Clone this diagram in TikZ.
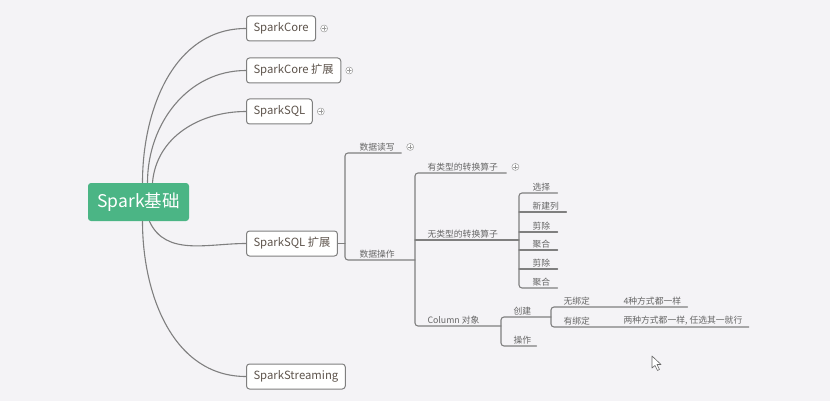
\documentclass[tikz,border=0pt]{standalone}
\usepackage{fontspec}
\setmainfont{Noto Sans CJK SC}
\usetikzlibrary{positioning, calc}
\definecolor{bgcol}{HTML}{F4F3F6}
\definecolor{rootfill}{HTML}{4BB585}
\definecolor{edgecol}{HTML}{7F7F7F}
\definecolor{boxtxt}{HTML}{5E544C}
\definecolor{leaftxt}{HTML}{666666}
\definecolor{foldcol}{HTML}{9A9A9A}

\begin{document}
\begin{tikzpicture}[
  x=1pt, y=-1pt,
  line width=1pt, line cap=round, line join=round,
  root/.style  = {fill=rootfill, rounded corners=3pt, minimum width=101pt,
                  minimum height=38pt, inner sep=0pt, text=white,
                  font=\fontsize{17.5}{19}\selectfont},
  topic/.style = {draw=edgecol, line width=1pt, fill=white, rounded corners=3pt,
                  minimum height=25pt, inner xsep=7pt, inner ysep=0pt,
                  text=boxtxt, anchor=west, font=\fontsize{11.3}{13}\selectfont},
  leaf/.style  = {text=leaftxt, inner xsep=0pt, inner ysep=1.5pt,
                  anchor=south west, font=\fontsize{8.8}{10}\selectfont},
  edge/.style  = {draw=edgecol, line width=1.1pt},
  fold/.style  = {circle, draw=foldcol, line width=0.5pt, fill=white,
                  minimum size=7pt, inner sep=0pt,
                  path picture={\draw[foldcol, line width=0.5pt]
                    ([xshift=-2pt]path picture bounding box.center) -- ([xshift=2pt]path picture bounding box.center)
                    ([yshift=-2pt]path picture bounding box.center) -- ([yshift=2pt]path picture bounding box.center);}}
]

\fill[bgcol] (0,0) rectangle (830,401);

% 中心主题与一级主题
\node[root]  (root)  at (138.5,202) {Spark基础};
\node[topic] (core)  at (246,28.5)  {SparkCore};
\node[topic] (corex) at (246,70.5)  {SparkCore 扩展};
\node[topic] (sql)   at (246,111.5) {SparkSQL};
\node[topic] (sqlx)  at (246,243.5) {SparkSQL 扩展};
\node[topic] (strm)  at (246,376.5) {SparkStreaming};

\draw[edge] ([xshift=55pt]root.north west) to[out=90, in=180] (core.west);
\draw[edge] ([xshift=60pt]root.north west) to[out=90, in=180] (corex.west);
\draw[edge] ([xshift=65pt]root.north west) to[out=85, in=180] (sql.west);
\draw[edge] ([xshift=62pt]root.south west) to[out=-65, in=180] (sqlx.west);
\draw[edge] ([xshift=55pt]root.south west) to[out=-90, in=180] (strm.west);

\node[fold] (f1) at ([xshift=8pt]core.east)  {};
\node[fold] (f2) at ([xshift=8pt]corex.east) {};
\node[fold] (f3) at ([xshift=8pt]sql.east)   {};

% SparkSQL 扩展
\coordinate (spA) at (345,243.5);
\coordinate (spB) at (415,260);
\coordinate (spC) at (519,240);
\coordinate (spD) at (501,326);
\coordinate (spE) at (551,317);

\node[leaf] (rw)     at (359,153) {数据读写};
\node[leaf] (op)     at (359,260) {数据操作};
\node[leaf] (typed)  at (427,173) {有类型的转换算子};
\node[leaf] (untyped) at (427,240) {无类型的转换算子};
\node[leaf] (col)    at (427,326) {Column 对象};

\node[fold] (f4) at ([xshift=15pt]rw.east)    {};
\node[fold] (f5) at ([xshift=17pt]typed.east) {};

\draw[edge] (sqlx.east) -- (spA);
\draw[edge, rounded corners=3pt] ([xshift=6pt]rw.south east) -| (spA) |- (spB);
\draw[edge, rounded corners=3pt] ([xshift=8pt]typed.south east) -| (spB) |- (spD);
\draw[edge] (spB |- untyped.south) -- (spC);

% 无类型的转换算子
\node[leaf] (c1) at (532,193) {选择};
\node[leaf] (c2) at (532,212) {新建列};
\node[leaf] (c3) at (532,232) {剪除};
\node[leaf] (c4) at (532,250) {聚合};
\node[leaf] (c5) at (532,269) {剪除};
\node[leaf] (c6) at (532,288) {聚合};

\draw[edge, rounded corners=3pt] ([xshift=7pt]c1.south east) -| (spC) |- ([xshift=7pt]c6.south east);
\foreach \n in {c2,c3,c4,c5}
  \draw[edge] (spC |- \n.south) -- ([xshift=7pt]\n.south east);

% Column 对象
\node[leaf] (mk)  at (513,317) {创建};
\node[leaf] (ops) at (513,346) {操作};
\node[leaf] (nb)  at (563,307) {无绑定};
\node[leaf] (nb2) at (623,307) {4种方式都一样};
\node[leaf] (hb)  at (563,327) {有绑定};
\node[leaf] (hb2) at (623,327) {两种方式都一样, 任选其一就行};

\draw[edge, rounded corners=3pt] (spE) -| (spD) |- ([xshift=5pt]ops.south east);
\draw[edge, rounded corners=3pt] ([xshift=6pt]nb2.south east) -| (spE) |- ([xshift=6pt]hb2.south east);

% 鼠标指针
\draw[fill=white, draw=edgecol!80!black, line width=0.6pt]
  (652,356) -- (652,368) -- (655,365.5) -- (657.5,370.5) -- (659.5,369.5)
  -- (657,364.5) -- (661,364.5) -- cycle;

\end{tikzpicture}
\end{document}
